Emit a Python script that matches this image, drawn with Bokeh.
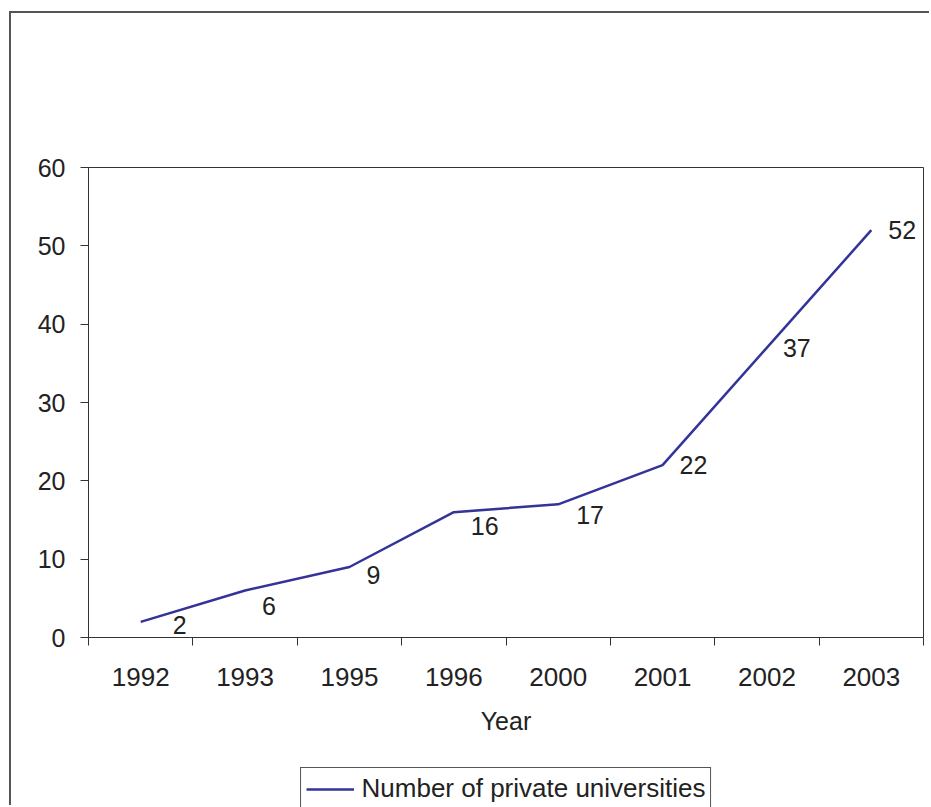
from bokeh.plotting import figure
from bokeh.layouts import column
from bokeh.models import (Range1d, FixedTicker, LinearAxis, Legend, LegendItem,
                          ColumnDataSource, InlineStyleSheet)
from bokeh.core.properties import value
from bokeh.embed import file_html
from bokeh.resources import INLINE

# ---- data ----
years = ["1992", "1993", "1995", "1996", "2000", "2001", "2002", "2003"]
universities = [2, 6, 9, 16, 17, 22, 37, 52]
series_name = "Number of private universities"
y_ticks = [0, 10, 20, 30, 40, 50, 60]

# label nudges (screen px), style only
label_dx = [32, 17, 17, 17, 18, 17, 16, 17]
label_dy = [3, 15, 8, 14, 11, 0, 0, 0]

FONT = "Liberation Sans"
TXT = "#222222"
LINE = "#333399"

n = len(years)
xs = [i + 0.5 for i in range(n)]

p = figure(width=920, height=747,
           output_backend="svg", toolbar_location=None,
           x_range=Range1d(0, n), y_range=Range1d(0, 60),
           min_border_left=77, min_border_right=8, min_border_top=154, min_border_bottom=123,
           x_axis_type=None, y_axis_type=None)
p.background_fill_color = "white"
p.border_fill_color = "white"
p.outline_line_color = "#333333"
p.outline_line_width = 1

# y axis
yax = LinearAxis(ticker=FixedTicker(ticks=y_ticks))
yax.axis_line_color = "#333333"
yax.major_tick_line_color = "#333333"
yax.major_tick_out = 8
yax.major_tick_in = 0
yax.minor_tick_line_color = None
yax.major_label_text_font = FONT
yax.major_label_text_font_size = "25px"
yax.major_label_text_color = TXT
yax.major_label_standoff = 15
p.add_layout(yax, "left")

# x axis: labels at category centres, tick marks at category boundaries
xax = LinearAxis(ticker=FixedTicker(ticks=xs, minor_ticks=list(range(n + 1))))
xax.major_label_overrides = {x: y for x, y in zip(xs, years)}
xax.axis_line_color = "#333333"
xax.major_tick_out = 0
xax.major_tick_in = 0
xax.minor_tick_out = 8
xax.minor_tick_in = 0
xax.minor_tick_line_color = "#333333"
xax.major_label_text_font = FONT
xax.major_label_text_font_size = "26px"
xax.major_label_text_color = TXT
xax.major_label_standoff = 22
xax.axis_label = "Year"
xax.axis_label_text_font = FONT
xax.axis_label_text_font_size = "25px"
xax.axis_label_text_font_style = "normal"
xax.axis_label_text_color = TXT
xax.axis_label_standoff = 18
p.add_layout(xax, "below")

p.ygrid.grid_line_color = "#333333"
p.ygrid.grid_line_width = 1
p.ygrid.ticker = FixedTicker(ticks=y_ticks)
p.xgrid.grid_line_color = None

src = ColumnDataSource(dict(x=xs, y=universities, lbl=[str(v) for v in universities],
                            dx=label_dx, dy=label_dy))

line = p.line("x", "y", source=src, line_color=LINE, line_width=2.5)

p.text("x", "y", text="lbl", source=src, x_offset="dx", y_offset="dy",
       text_font=value(FONT), text_font_size="25px", text_color=TXT,
       text_align="left", text_baseline="middle")

# legend strip below the chart (its own view range keeps the series out of sight)
pl = figure(width=920, height=47, output_backend="svg", toolbar_location=None,
            x_range=Range1d(1000, 1001), y_range=Range1d(1000, 1001),
            min_border_left=77, min_border_right=8, min_border_top=0, min_border_bottom=0,
            x_axis_type=None, y_axis_type=None)
pl.outline_line_color = None
pl.background_fill_color = "white"
pl.border_fill_color = "white"
pl.xgrid.grid_line_color = None
pl.ygrid.grid_line_color = None
swatch = pl.line("x", "y", source=src, line_color=LINE, line_width=2.5)

legend = Legend(items=[LegendItem(label=series_name, renderers=[swatch])],
                location="top_center", orientation="horizontal")
legend.label_text_font = FONT
legend.label_text_font_size = "26px"
legend.label_text_color = TXT
legend.border_line_color = "#555555"
legend.border_line_alpha = 1
legend.border_line_width = 1
legend.glyph_width = 48
legend.label_standoff = 8
legend.padding = 5
legend.margin = 7
legend.background_fill_alpha = 1
pl.add_layout(legend)

layout = column(p, pl, spacing=0)
layout.margin = (13, 0, 0, 11)
layout.stylesheets = [InlineStyleSheet(css=":host { box-shadow: -2px -2px 0 0 #555555; }")]

open("out.html", "w").write(file_html(layout, INLINE))
